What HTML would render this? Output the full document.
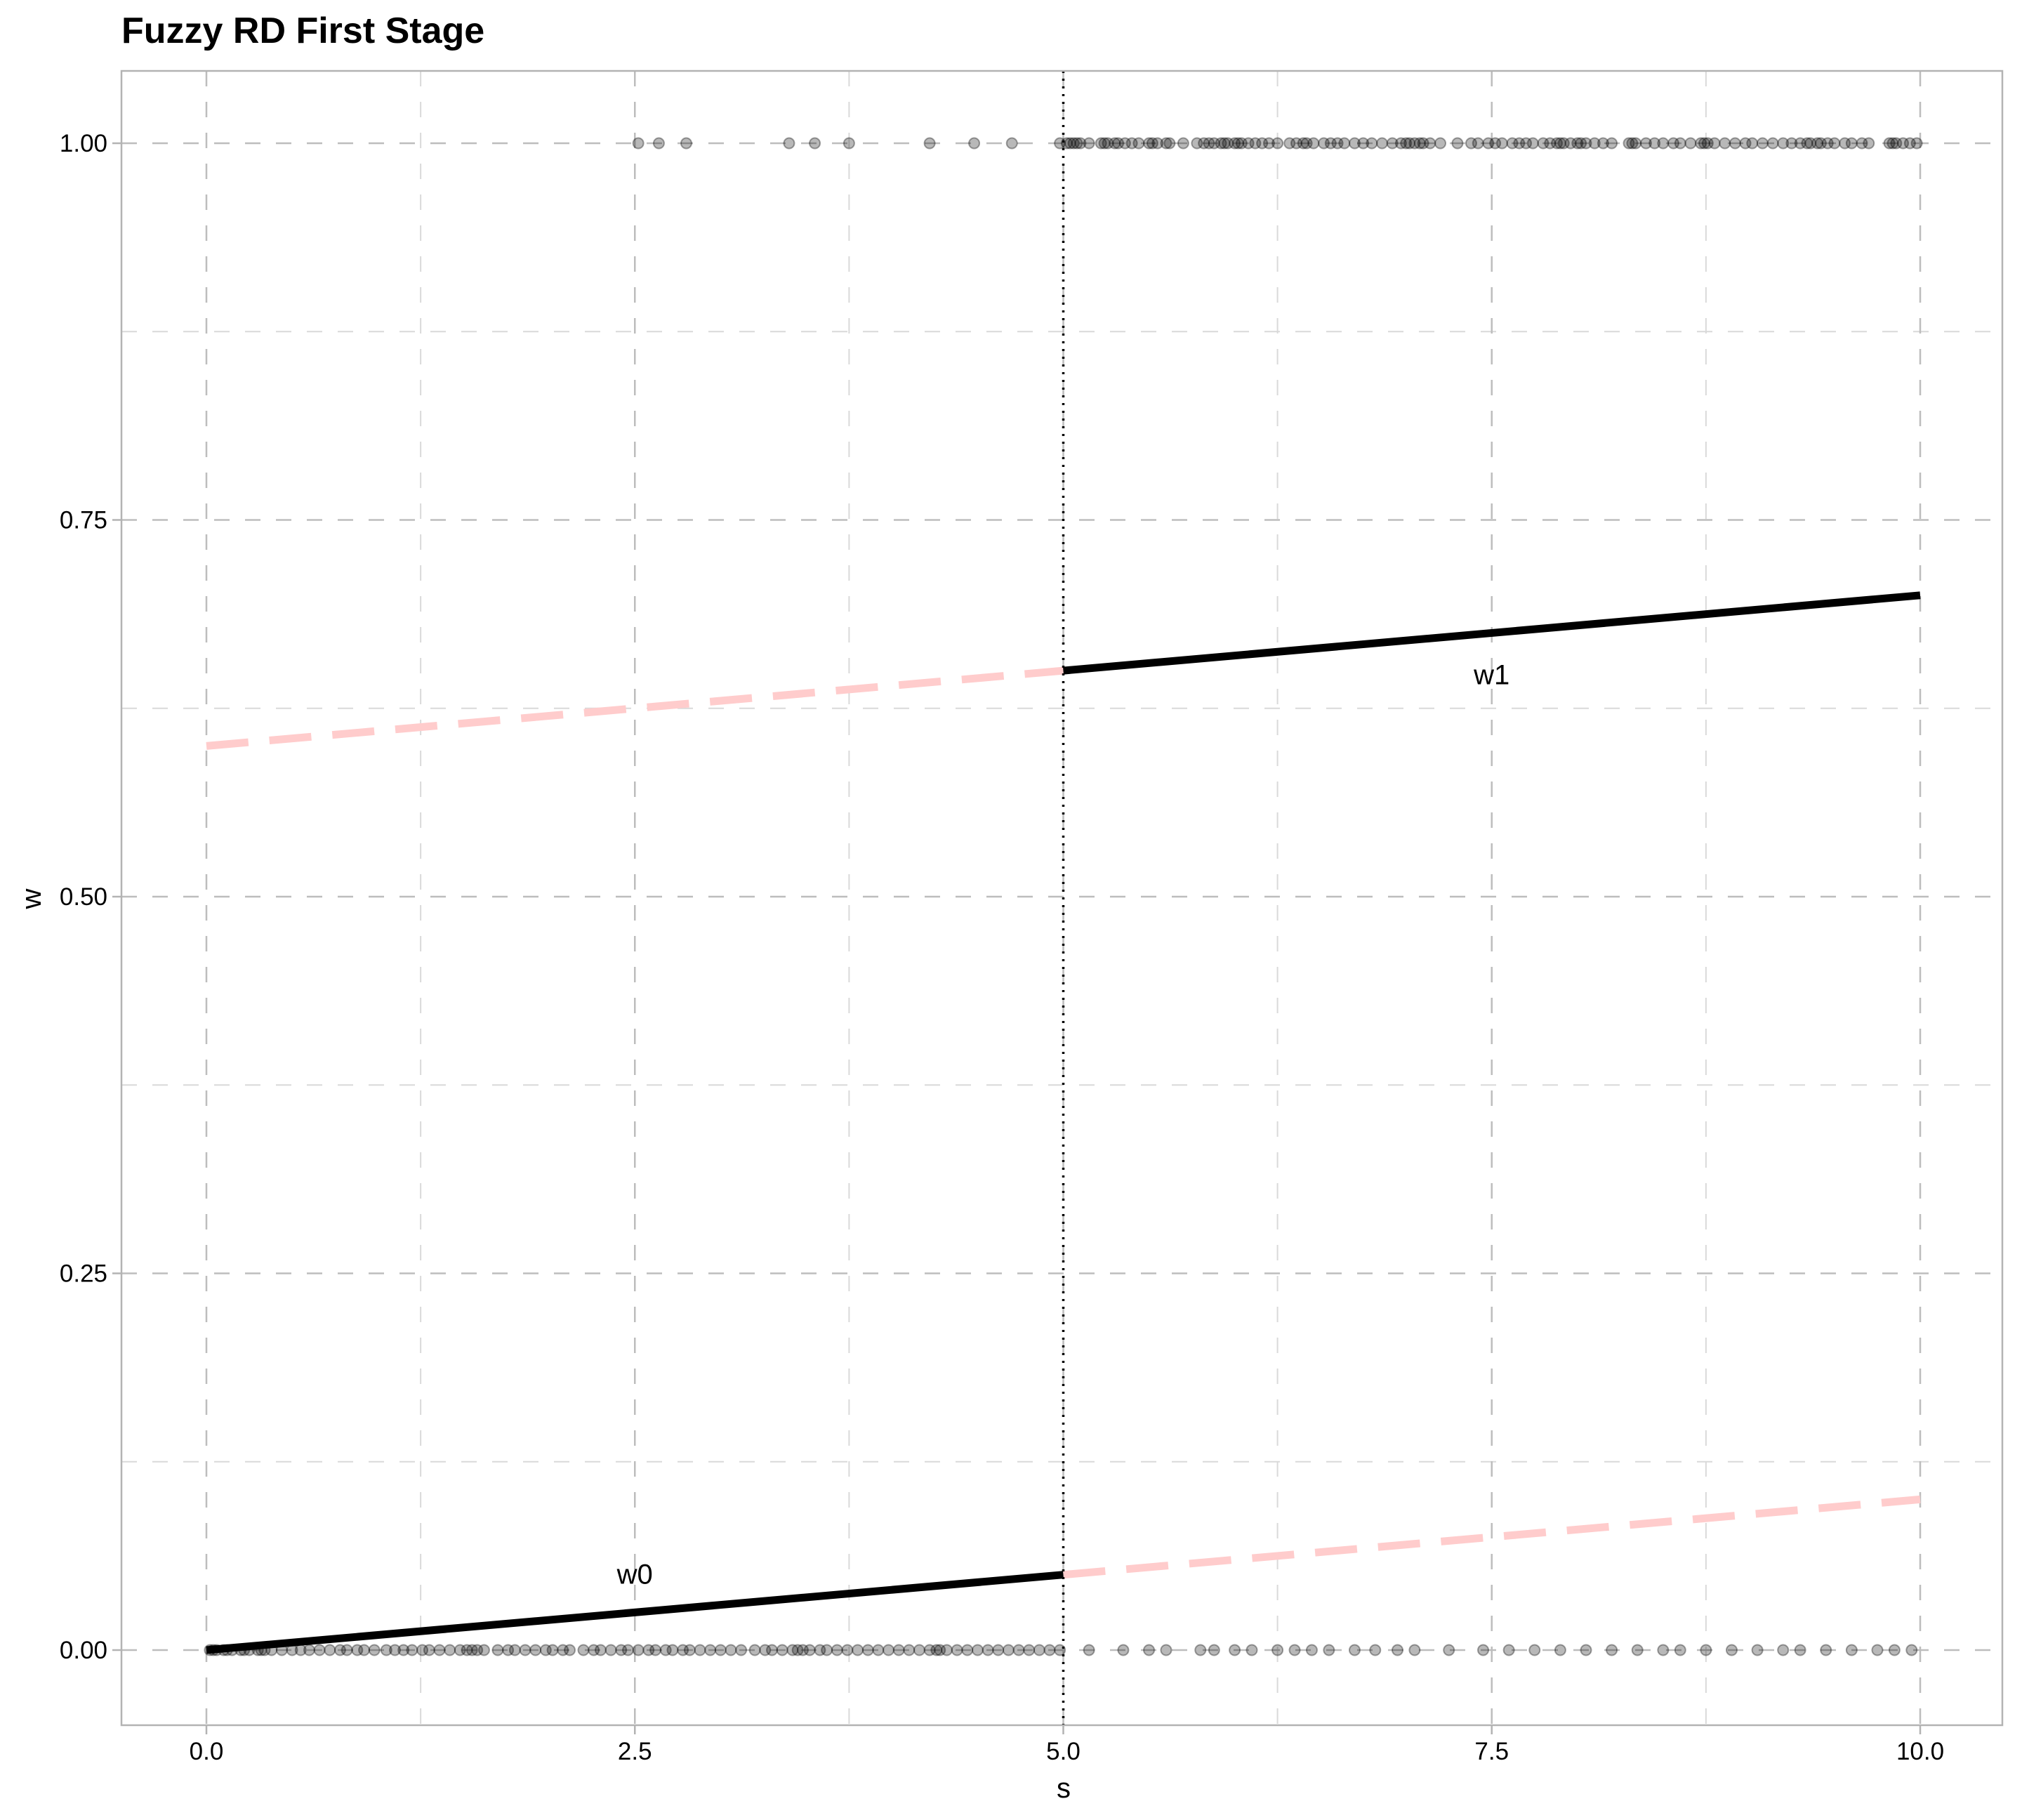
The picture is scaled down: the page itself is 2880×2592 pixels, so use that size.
<!DOCTYPE html>
<html><head><meta charset="utf-8"><style>
html,body{margin:0;padding:0;background:#fff;}
svg{display:block;font-family:"Liberation Sans",sans-serif;}
</style></head><body>
<svg id="chart" width="2880" height="2592" viewBox="0 0 2880 2592" xmlns="http://www.w3.org/2000/svg">
<text x="173" y="61" font-size="52" font-weight="bold" fill="#000">Fuzzy RD First Stage</text>
<g id="grid"></g>
<g id="points"></g>
<g id="lines"></g>
<rect x="173" y="101" width="2679" height="2356" fill="none" stroke="#b3b3b3" stroke-width="2.5"/>
<g id="axes"></g>
<text x="1515" y="2560" font-size="40" text-anchor="middle">s</text>
<text x="58" y="1280" font-size="40" text-anchor="middle" transform="rotate(-90 58 1280)">w</text>
</svg>
<script>
const xTicks=[0,2.5,5,7.5,10];
const xTickLabels=["0.0","2.5","5.0","7.5","10.0"];
const yTicks=[0,0.25,0.5,0.75,1];
const yTickLabels=["0.00","0.25","0.50","0.75","1.00"];
const cutoff=5;
const w0Line=[[0,0],[5,0.05],[10,0.1]];
const w1Line=[[0,0.6],[5,0.65],[10,0.7]];
const labelW0=[2.5,0.05,"w0"];
const labelW1=[7.5,0.647,"w1"];
const sTreatedOne=[2.52,2.64,2.8,3.4,3.55,3.75,4.22,4.48,4.7,4.98,5.02,5.04,5.06,5.08,5.1,5.15,5.22,5.24,5.26,5.3,5.32,5.36,5.4,5.44,5.5,5.52,5.55,5.6,5.62,5.7,5.78,5.82,5.85,5.88,5.92,5.94,5.96,6.0,6.02,6.04,6.08,6.12,6.16,6.2,6.25,6.32,6.36,6.4,6.42,6.46,6.52,6.56,6.6,6.64,6.7,6.75,6.8,6.86,6.92,6.97,7.0,7.02,7.05,7.08,7.1,7.14,7.2,7.3,7.38,7.42,7.48,7.52,7.56,7.62,7.66,7.7,7.74,7.8,7.84,7.88,7.9,7.92,7.96,8.0,8.02,8.05,8.1,8.15,8.2,8.3,8.32,8.34,8.4,8.45,8.5,8.56,8.6,8.66,8.72,8.74,8.76,8.8,8.86,8.92,8.98,9.02,9.08,9.14,9.2,9.25,9.3,9.34,9.36,9.4,9.42,9.46,9.5,9.56,9.6,9.66,9.7,9.82,9.84,9.86,9.9,9.94,9.98];
const sTreatedZero=[0.02,0.04,0.06,0.1,0.12,0.15,0.2,0.22,0.25,0.3,0.32,0.34,0.38,0.44,0.5,0.55,0.6,0.66,0.72,0.78,0.82,0.88,0.92,0.98,1.05,1.1,1.15,1.2,1.26,1.3,1.36,1.42,1.48,1.52,1.55,1.58,1.62,1.7,1.76,1.8,1.86,1.92,1.98,2.02,2.08,2.12,2.2,2.26,2.3,2.36,2.42,2.46,2.52,2.58,2.62,2.68,2.72,2.78,2.82,2.88,2.94,3.0,3.06,3.12,3.2,3.26,3.3,3.36,3.42,3.45,3.48,3.52,3.58,3.62,3.68,3.74,3.8,3.86,3.92,3.98,4.04,4.1,4.16,4.22,4.26,4.28,4.32,4.38,4.44,4.5,4.56,4.62,4.68,4.74,4.8,4.86,4.92,4.98,5.15,5.35,5.5,5.6,5.8,5.88,6.0,6.1,6.25,6.35,6.45,6.55,6.7,6.82,6.95,7.05,7.25,7.45,7.6,7.75,7.9,8.05,8.2,8.35,8.5,8.6,8.75,8.9,9.05,9.2,9.3,9.45,9.6,9.75,9.85,9.95];
const X0=294,X1=2735,Y0=2350,Y1=204;
const sx=v=>X0+(X1-X0)*v/10;
const sy=v=>Y0+(Y1-Y0)*v;
const NS="http://www.w3.org/2000/svg";
function mk(tag,parent,attrs){const e=document.createElementNS(NS,tag);for(const k in attrs)e.setAttribute(k,attrs[k]);parent.appendChild(e);return e;}
const grid=document.getElementById('grid'),pts=document.getElementById('points'),lines=document.getElementById('lines'),axes=document.getElementById('axes');
for(let i=0;i<4;i++){const v=1.25+2.5*i;
const g=mk('line',grid,{x1:sx(v),x2:sx(v),y1:101,y2:2457,stroke:'#d9d9d9','stroke-width':2,'stroke-dasharray':'22 22'});

const h=mk('line',grid,{y1:sy(v/10),y2:sy(v/10),x1:173,x2:2852,stroke:'#d9d9d9','stroke-width':2,'stroke-dasharray':'22 22'});
}
xTicks.forEach((v,i)=>{
const g=mk('line',grid,{x1:sx(v),x2:sx(v),y1:101,y2:2457,stroke:'#bdbdbd','stroke-width':2.5,'stroke-dasharray':'22 22'});

const t=mk('line',axes,{x1:sx(v),x2:sx(v),y1:2457,y2:2470,stroke:'#b3b3b3','stroke-width':2.5});

const l=mk('text',axes,{x:sx(v),y:2506,'font-size':35,'text-anchor':'middle'});l.textContent=xTickLabels[i];
});
yTicks.forEach((v,i)=>{
const g=mk('line',grid,{y1:sy(v),y2:sy(v),x1:173,x2:2852,stroke:'#bdbdbd','stroke-width':2.5,'stroke-dasharray':'22 22'});

const t=mk('line',axes,{y1:sy(v),y2:sy(v),x1:160,x2:173,stroke:'#b3b3b3','stroke-width':2.5});

const l=mk('text',axes,{x:153,y:sy(v)+12,'font-size':35,'text-anchor':'end'});l.textContent=yTickLabels[i];
});
function pt(s,w){const c=mk('circle',pts,{cx:sx(s),cy:sy(w),r:7.5,fill:'rgba(0,0,0,0.28)',stroke:'rgba(0,0,0,0.35)','stroke-width':2});
}
sTreatedOne.forEach(s=>pt(s,1));
sTreatedZero.forEach(s=>pt(s,0));
function seg(a,b,solid,name){const e=mk('line',lines,{x1:sx(a[0]),y1:sy(a[1]),x2:sx(b[0]),y2:sy(b[1]),stroke:solid?'#000':'#ffcccc','stroke-width':11});
if(!solid)e.setAttribute('stroke-dasharray','60 30');
}
seg(w1Line[0],w1Line[1],false,'w1-extrapolated-line');
seg(w0Line[1],w0Line[2],false,'w0-extrapolated-line');
seg(w0Line[0],w0Line[1],true,'w0-fit-line');
seg(w1Line[1],w1Line[2],true,'w1-fit-line');
const cl=mk('line',lines,{x1:sx(cutoff),x2:sx(cutoff),y1:101,y2:2457,stroke:'#000','stroke-width':3.5,'stroke-dasharray':'3 8'});

[labelW0,labelW1].forEach(L=>{const t=mk('text',lines,{x:sx(L[0]),y:sy(L[1])+13,'font-size':40,'text-anchor':'middle'});t.textContent=L[2];
});
</script>
</body></html>
